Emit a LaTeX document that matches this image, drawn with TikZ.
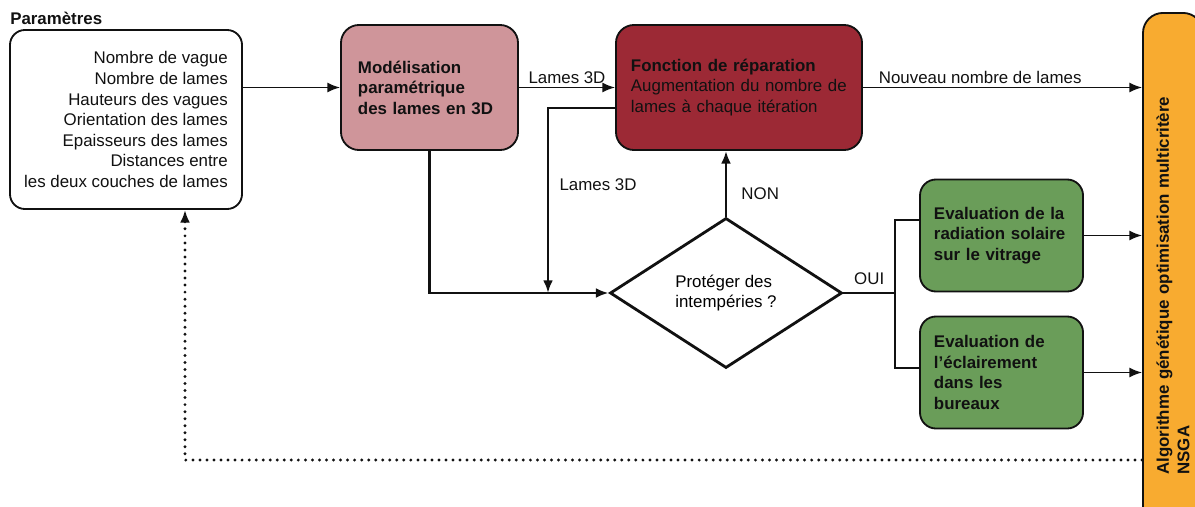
\documentclass[tikz,border=0pt]{standalone}
\usepackage{fontspec}
\setmainfont{Liberation Sans}
\usepackage{xcolor}
\usepackage{tikz}
\usetikzlibrary{arrows.meta,shapes.geometric,calc}
\definecolor{fbInk}{HTML}{111111}
\definecolor{fbPink}{HTML}{CF959A}
\definecolor{fbRed}{HTML}{9C2935}
\definecolor{fbGreen}{HTML}{6A9D59}
\definecolor{fbOrange}{HTML}{F8AB30}
\tikzset{
  basebox/.style={rectangle,draw=fbInk,line width=1.3pt,
    inner ysep=0pt,text=fbInk,
    font=\fontsize{12}{14.6}\selectfont},
  parbox/.style={basebox,rounded corners=0.375cm,fill=white,
    align=right,minimum width=5.8cm,minimum height=4.475cm},
  modbox/.style={basebox,rounded corners=0.45cm,fill=fbPink,
    align=left,text width=3.575cm,inner xsep=0.425cm,
    minimum height=3.125cm,
    font=\fontsize{12}{14.6}\selectfont\bfseries},
  repbox/.style={basebox,rounded corners=0.45cm,fill=fbRed,
    align=left,text width=5.4cm,inner xsep=0.375cm,
    minimum height=3.125cm},
  evalbox/.style={basebox,rounded corners=0.4cm,fill=fbGreen,
    align=left,text width=3.375cm,inner xsep=0.35cm,
    minimum height=2.8cm,
    font=\fontsize{12}{14.6}\selectfont\bfseries},
  decbox/.style={diamond,draw=fbInk,line width=2pt,inner sep=0pt,
    minimum width=5.8cm,minimum height=3.75cm,align=left,
    font=\fontsize{12}{14.6}\selectfont},
  nsgabar/.style={basebox,rotate=90,rounded corners=0.5cm,fill=fbOrange,
    align=left,text width=9.6cm,inner xsep=0pt,
    minimum width=13.475cm,minimum height=1.5cm,
    font=\fontsize{12}{14.6}\selectfont\bfseries},
  lbl/.style={inner sep=0pt,text=fbInk,font=\fontsize{12}{14.6}\selectfont},
  arr/.style={-{Latex[length=9pt,width=7pt]},line width=1.1pt,color=fbInk},
  arrt/.style={arr,line width=2pt},
  lnt/.style={line width=2pt,color=fbInk},
  dotarr/.style={arr,line width=2.3pt,line cap=round,
    dash pattern=on 0pt off 5pt},
}
\begin{document}
\begin{tikzpicture}[x=0.025cm,y=-0.025cm]
  \clip (0,0) rectangle (1195,506);

  \node[lbl,font=\fontsize{12}{14.6}\selectfont\bfseries,anchor=west] (partitle)
    at (10,18) {Paramètres};
  \node[parbox] (params) at (126,119.5)
    {Nombre de vague\\Nombre de lames\\Hauteurs des vagues\\Orientation des lames\\
     Epaisseurs des lames\\Distances entre\\les deux couches de lames};
  \node[modbox] (model) at (429.5,87.5)
    {Modélisation\\paramétrique\\des lames en 3D};
  \node[repbox] (repair) at (739,87.5)
    {\textbf{Fonction de réparation}\\Augmentation du nombre de\\lames à chaque itération};
  \node[decbox] (decide) at (726,293)
    {Protéger des\\intempéries ?};
  \node[evalbox] (evalrad) at (1001.5,235.5)
    {Evaluation de la\\radiation solaire\\sur le vitrage};
  \node[evalbox] (evallum) at (1001.5,372.5)
    {Evaluation de\\l’éclairement\\dans les\\bureaux};
  \node[nsgabar] (nsga) at (1173,282.5)
    {Algorithme génétique optimisation multicritère\\NSGA};

  \coordinate (split) at (548,293);
  \coordinate (oui) at (895,293);
  \coordinate (back) at (185,460);

  \draw[arr] (model.west -| params.east) -- (model.west);
  \draw[arr] (model.east) -- (repair.west)
    node[lbl,midway,above=2.5pt] (lamesa) {Lames 3D};
  \draw[arr] (repair.east) -- (repair.east -| nsga.north)
    node[lbl,pos=0.42,above=2.5pt] (nouveau) {Nouveau nombre de lames};
  \draw[arrt] ($(repair.west)+(0,20.5)$) -| (split);
  \node[lbl] (lamesb) at (598,185) {Lames 3D};
  \draw[arrt] (model.south) |- (decide.west);
  \draw[arrt] (decide.north) -- (decide.north |- repair.south)
    node[lbl,pos=0.35,right=10pt] (non) {NON};
  \draw[lnt] (decide.east) -- (oui)
    node[lbl,midway,above=5pt] (ouilbl) {OUI};
  \draw[lnt] ($(evalrad.west)+(0,-15.5)$) -| (oui) |- ($(evallum.west)+(0,-4.5)$);

  \foreach \src in {evalrad,evallum}
    \draw[arr] (\src.east) -- (\src.east -| nsga.north);

  \draw[dotarr] (back -| nsga.north) -- (back) -- (back |- params.south);

\end{tikzpicture}
\end{document}
